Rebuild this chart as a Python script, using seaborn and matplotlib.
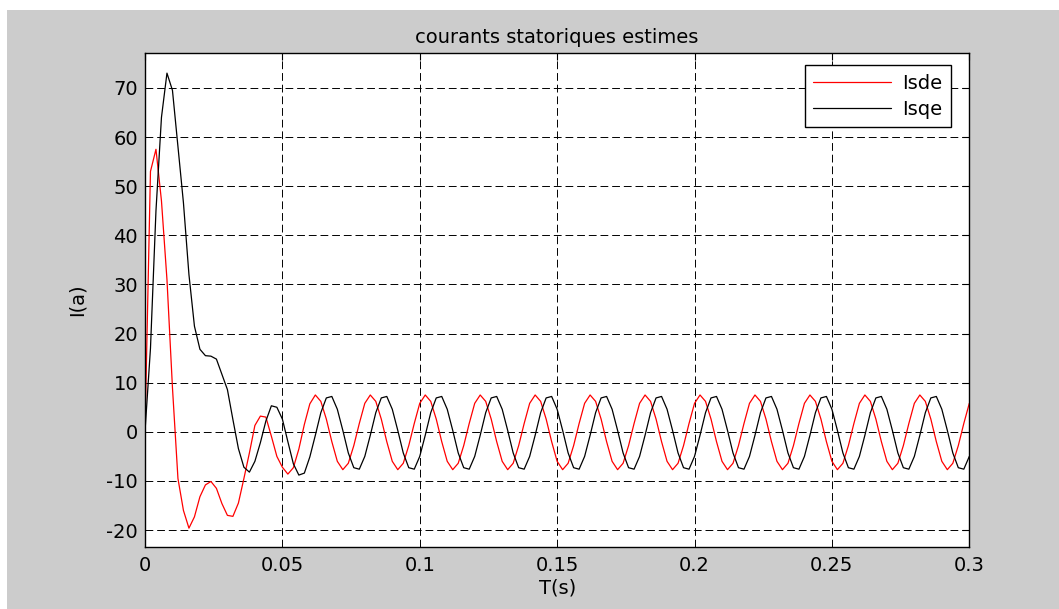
import matplotlib
matplotlib.use('Agg')
import matplotlib.pyplot as plt
from matplotlib.patches import Rectangle
from matplotlib.lines import Line2D
import seaborn as sns
import pandas as pd
import numpy as np

# time base of the simulation (s), sampled every 2 ms
dt = 0.002
n_samples = 151

# estimated d-axis stator current (red)
isde = [
    0, 53, 57.5, 47, 31, 9, -9.5, -16, -19.6, -17.3,
    -13.2, -10.8, -10.1, -11.5, -14.6, -17.0, -17.2, -14.5, -9.5, -4.3,
    1.3, 3.2, 3.0, -0.9, -5.0, -7.2, -8.6, -7.3, -3.5, 1.5,
    5.7,
    7.5, 6.2, 2.6, -2.0, -6.0, -7.7, -6.4, -2.8, 1.7, 5.8,
    7.5, 6.2, 2.6, -2.0, -6.0, -7.7, -6.4, -2.8, 1.7, 5.8,
    7.5, 6.2, 2.6, -2.0, -6.0, -7.7, -6.4, -2.8, 1.7, 5.8,
    7.5, 6.2, 2.6, -2.0, -6.0, -7.7, -6.4, -2.8, 1.7, 5.8,
    7.5, 6.2, 2.6, -2.0, -6.0, -7.7, -6.4, -2.8, 1.7, 5.8,
    7.5, 6.2, 2.6, -2.0, -6.0, -7.7, -6.4, -2.8, 1.7, 5.8,
    7.5, 6.2, 2.6, -2.0, -6.0, -7.7, -6.4, -2.8, 1.7, 5.8,
    7.5, 6.2, 2.6, -2.0, -6.0, -7.7, -6.4, -2.8, 1.7, 5.8,
    7.5, 6.2, 2.6, -2.0, -6.0, -7.7, -6.4, -2.8, 1.7, 5.8,
    7.5, 6.2, 2.6, -2.0, -6.0, -7.7, -6.4, -2.8, 1.7, 5.8,
    7.5, 6.2, 2.6, -2.0, -6.0, -7.7, -6.4, -2.8, 1.7, 5.8,
    7.5, 6.2, 2.6, -2.0, -6.0, -7.7, -6.4, -2.8, 1.7, 5.8,
]

# estimated q-axis stator current (black)
isqe = [
    0, 17, 45, 64, 73, 69.5, 58, 46.6, 32, 21.5,
    16.8, 15.5, 15.4, 14.8, 11.7, 8.6, 2.5, -3.4, -7.2, -8.2,
    -6.0, -2.2, 2.2, 5.3, 5.0, 2.6, -2.0, -6.5, -8.8, -8.4,
    -5.1,
    -0.7, 3.9, 6.9, 7.2, 4.6, 0.3, -4.3, -7.3, -7.6, -5.0,
    -0.7, 3.9, 6.9, 7.2, 4.6, 0.3, -4.3, -7.3, -7.6, -5.0,
    -0.7, 3.9, 6.9, 7.2, 4.6, 0.3, -4.3, -7.3, -7.6, -5.0,
    -0.7, 3.9, 6.9, 7.2, 4.6, 0.3, -4.3, -7.3, -7.6, -5.0,
    -0.7, 3.9, 6.9, 7.2, 4.6, 0.3, -4.3, -7.3, -7.6, -5.0,
    -0.7, 3.9, 6.9, 7.2, 4.6, 0.3, -4.3, -7.3, -7.6, -5.0,
    -0.7, 3.9, 6.9, 7.2, 4.6, 0.3, -4.3, -7.3, -7.6, -5.0,
    -0.7, 3.9, 6.9, 7.2, 4.6, 0.3, -4.3, -7.3, -7.6, -5.0,
    -0.7, 3.9, 6.9, 7.2, 4.6, 0.3, -4.3, -7.3, -7.6, -5.0,
    -0.7, 3.9, 6.9, 7.2, 4.6, 0.3, -4.3, -7.3, -7.6, -5.0,
    -0.7, 3.9, 6.9, 7.2, 4.6, 0.3, -4.3, -7.3, -7.6, -5.0,
    -0.7, 3.9, 6.9, 7.2, 4.6, 0.3, -4.3, -7.3, -7.6, -5.0,
]

x_ticks = [0, 0.05, 0.1, 0.15, 0.2, 0.25, 0.3]
x_ticklabels = ['0', '0.05', '0.1', '0.15', '0.2', '0.25', '0.3']
y_ticks = [-20, -10, 0, 10, 20, 30, 40, 50, 60, 70]
series_names = ['Isde', 'Isqe']
series_colors = {'Isde': 'red', 'Isqe': 'black'}

t = np.arange(n_samples) * dt
df = pd.concat([
    pd.DataFrame({'t': t, 'I': isde, 'serie': 'Isde'}),
    pd.DataFrame({'t': t, 'I': isqe, 'serie': 'Isqe'}),
], ignore_index=True)

sns.set_style('white')
plt.rcParams['font.family'] = ['DejaVu Sans']
plt.rcParams['axes.unicode_minus'] = False
plt.rcParams['text.color'] = 'black'
plt.rcParams['axes.labelcolor'] = 'black'
plt.rcParams['xtick.color'] = 'black'
plt.rcParams['ytick.color'] = 'black'

FS = 14

fig = plt.figure(figsize=(10.59, 6.09), dpi=100)
fig.patch.set_facecolor('white')
# matlab-like grey figure background (thin white strip at top/left)
fig.add_artist(Rectangle((7 / 1059, 0), 1, 1 - 10 / 609, transform=fig.transFigure,
                         facecolor='#cccccc', edgecolor='none', zorder=-10))

ax = fig.add_axes([0.1369, 0.1013, 0.7784, 0.8117])
ax.set_facecolor('white')

sns.lineplot(data=df, x='t', y='I', hue='serie', palette=series_colors,
             linewidth=0.9, legend=False, ax=ax, estimator=None)

ax.set_xlim(0, 0.3)
ax.set_ylim(-23.5, 77.1)
ax.set_xticks(x_ticks)
ax.set_xticklabels(x_ticklabels)
ax.set_yticks(y_ticks)

ax.grid(True, color='black', linestyle=(0, (8, 4)), linewidth=0.7)
ax.tick_params(direction='in', top=True, right=True, length=5, width=0.8,
               labelsize=FS, colors='black')
ax.tick_params(axis='x', pad=6)
ax.tick_params(axis='y', pad=5)
for sp in ax.spines.values():
    sp.set_color('black')
    sp.set_linewidth(1.0)

ax.set_title('courants statoriques estimes', fontsize=FS, pad=7)
ax.set_xlabel('T(s)', fontsize=FS, labelpad=3)
ax.set_ylabel('I(a)', fontsize=FS, labelpad=14)

handles = [Line2D([], [], color=series_colors[s], linewidth=0.9) for s in series_names]
leg = ax.legend(handles, series_names, loc='upper right', bbox_to_anchor=(0.9775, 0.9757),
                borderaxespad=0, fancybox=False, framealpha=1, edgecolor='black',
                fontsize=FS, handlelength=4.0, handletextpad=0.55, borderpad=0.45,
                labelspacing=0.35)
leg.get_frame().set_linewidth(1.0)

fig.savefig('out.png', dpi=100)
plt.close(fig)
